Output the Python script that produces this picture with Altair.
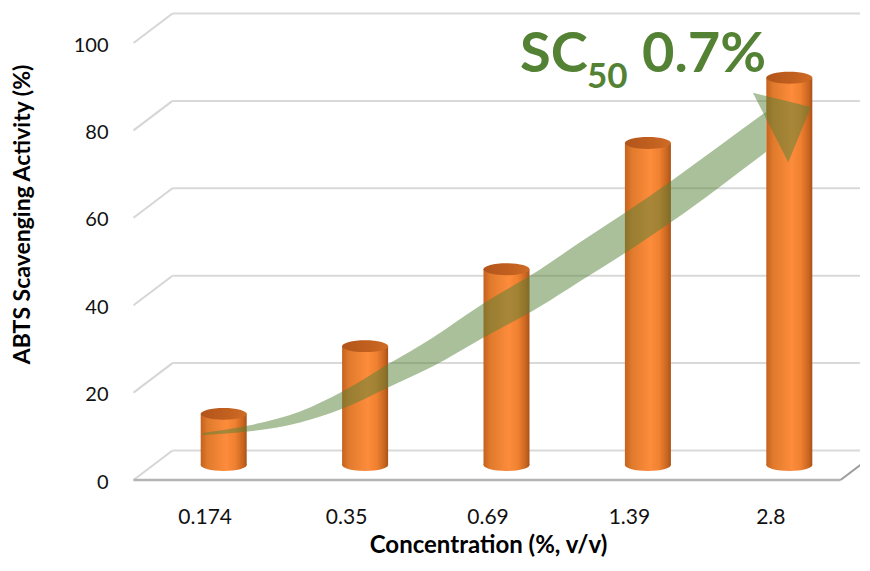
import altair as alt
import pandas as pd

# ---- data ----
concentrations = ["0.174", "0.35", "0.69", "1.39", "2.8"]
activity = [11.7, 27.2, 44.8, 73.7, 88.6]
y_ticks = [0, 20, 40, 60, 80, 100]

# green trend-arrow annotation: shaft edges (category position, activity value)
arrow_pos = [-0.146, 0.186, 0.540, 0.837, 1.162, 1.480, 1.834, 2.237, 2.520,
             2.838, 3.170, 3.510, 3.835]
arrow_top = [7.35, 9.1, 12.25, 16.75, 23.05, 29.2, 36.9, 44.75, 50.95, 57.7, 65.1, 73.1, 80.8]
arrow_bottom = [6.85, 7.7, 9.75, 12.85, 17.75, 22.6, 29.1, 36.25, 42.05, 48.5, 55.7, 63.7, 71.6]
arrow_head_pos = [4.01]
arrow_head_val = [79.6]

title_parts = ["SC", "50", "0.7%"]

bars = pd.DataFrame({"idx": list(range(len(concentrations))),
                     "conc": concentrations, "activity": activity})
grid = pd.DataFrame({"g": y_ticks})
floor = pd.DataFrame({"g": [0]})
arrow = pd.DataFrame({"p": arrow_pos, "top": arrow_top, "bottom": arrow_bottom})
head = pd.DataFrame({"p": arrow_head_pos, "v": arrow_head_val})

W, H = 707, 437
xs = alt.Scale(domain=[-0.5, 4.5], nice=False, zero=False, padding=0)
ys = alt.Scale(domain=[0, 100], nice=False, padding=0)

label_expr = "[" + ",".join("'%s'" % c for c in concentrations) + "][datum.value]"

x_axis = alt.Axis(values=list(range(len(concentrations))), labelExpr=label_expr,
                  domain=False, ticks=False, tickSize=0, grid=False,
                  labelFont="Lato", labelFontSize=21, labelColor="#111111",
                  labelOffset=-19, labelPadding=52, labelBaseline="middle",
                  title="Concentration (%, v/v)", titleFont="Lato",
                  titleFontSize=24, titleFontWeight="bold", titleColor="#000000",
                  titleX=335, titleY=87, titleAlign="center", titleBaseline="alphabetic")
y_axis = alt.Axis(values=y_ticks, domain=False, ticks=False, tickSize=0, grid=False,
                  labelFont="Lato", labelFontSize=20, labelColor="#111111",
                  labelOffset=17, labelPadding=45,
                  title="ABTS Scavenging Activity (%)", titleFont="Lato",
                  titleFontSize=23, titleFontWeight="bold", titleColor="#000000",
                  titleX=-131, titleY=186, titleAngle=270, titleAlign="center",
                  titleBaseline="middle")

def lingrad(stops):
    return alt.Gradient(gradient="linear", x1=0, x2=1, y1=0, y2=0,
                        stops=[alt.GradientStop(color=c, offset=o) for o, c in stops])

body_grad = lingrad([(0.0, "#c4621e"), (0.15, "#e07a2c"), (0.55, "#fd8c3c"),
                     (0.75, "#ef8131"), (0.92, "#c9651f"), (1.0, "#a8511a")])
top_grad = lingrad([(0.0, "#b2551b"), (0.6, "#c2601f"), (1.0, "#cf6b25")])

ellipse = "M-1,0 A1,0.26 0 1,1 1,0 A1,0.26 0 1,1 -1,0 Z"
arrowhead = "M0.58,0 L-0.58,-1 L-0.58,1 Z"

X = lambda f: alt.X(f, scale=xs, axis=x_axis)
Y = lambda f: alt.Y(f, scale=ys, axis=y_axis)

# back wall gridlines
back = alt.Chart(grid).mark_rule(color="#d9d9d9", strokeWidth=2, yOffset=-14.5).encode(
    x=alt.value(19.5), x2=alt.value(760), y=Y("g:Q"))
# side wall gridlines (diagonals)
side = alt.Chart(grid).mark_rule(color="#d6d6d6", strokeWidth=2,
                                 yOffset=15, y2Offset=-14.5).encode(
    x=alt.value(-19.5), x2=alt.value(19.5), y=Y("g:Q"), y2="g:Q")
# floor front and right edges
floor_front = alt.Chart(floor).mark_rule(color="#b4b4b4", strokeWidth=2.5, yOffset=15).encode(
    x=alt.value(-19.5), x2=alt.value(687.5), y=Y("g:Q"))
floor_right = alt.Chart(floor).mark_rule(color="#9c9c9c", strokeWidth=2,
                                         yOffset=15, y2Offset=-14.5).encode(
    x=alt.value(687.5), x2=alt.value(726.5), y=Y("g:Q"), y2="g:Q")

bottom_caps = alt.Chart(bars).mark_point(shape=ellipse, size=46 * 46, filled=True,
                                         fill=body_grad, opacity=1, strokeWidth=0).encode(
    x=X("idx:Q"), y=alt.datum(0))
body = alt.Chart(bars).mark_bar(width=46, color=body_grad, strokeWidth=0).encode(
    x=X("idx:Q"), y=Y("activity:Q"))
top_caps = alt.Chart(bars).mark_point(shape=ellipse, size=46 * 46, filled=True,
                                      fill=top_grad, opacity=1, strokeWidth=0).encode(
    x=X("idx:Q"), y=Y("activity:Q"))

shaft = alt.Chart(arrow).mark_area(color="#548235", opacity=0.5,
                                   interpolate="monotone").encode(
    x=X("p:Q"), y=Y("top:Q"), y2="bottom:Q")
tip = alt.Chart(head).mark_point(shape=arrowhead, size=78 * 78, angle=333, filled=True,
                                 color="#548235", opacity=0.5, strokeWidth=0).encode(
    x=X("p:Q"), y=Y("v:Q"))

def label(text, x, y, size):
    return alt.Chart(pd.DataFrame({"t": [text]})).mark_text(
        font="Lato", fontWeight="bold", fontSize=size, color="#548235",
        align="left", baseline="alphabetic").encode(
        x=alt.value(x), y=alt.value(y), text="t:N")

sc = label(title_parts[0], 367, 44, 56)
sub = label(title_parts[1], 434, 60, 35)
val = label(title_parts[2], 489, 44, 56)

chart = alt.layer(back, side, floor_front, floor_right, bottom_caps, body, top_caps,
                  shaft, tip, sc, sub, val).properties(
    width=W, height=H,
    padding={"left": 145, "top": 20, "right": 0, "bottom": 93},
    autosize=alt.AutoSizeParams(type="none"),
).configure_view(stroke=None)

chart.save("out.html", embed_options={"renderer": "svg", "actions": False})
